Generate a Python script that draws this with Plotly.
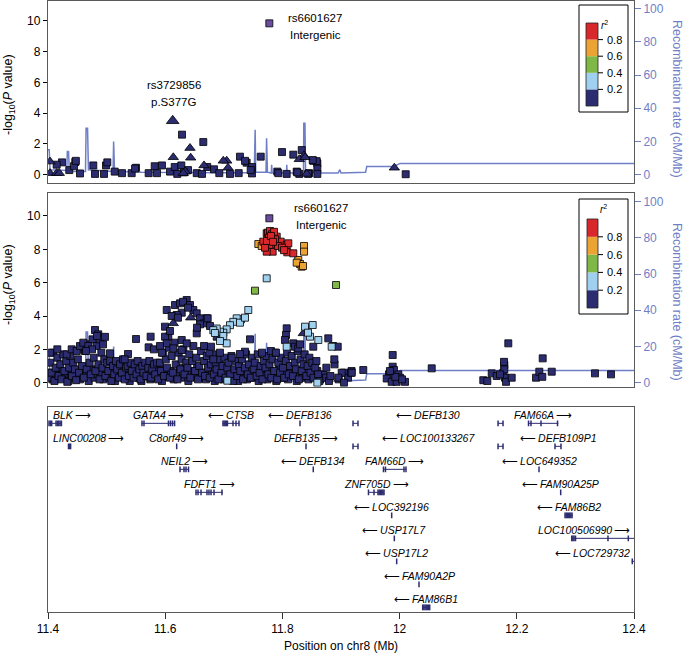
import plotly.graph_objects as go

W, H = 685, 654

# ---------------- data ----------------
# recombination rate (cM/Mb), shared by both association panels
recomb_pos = [11.400, 11.402, 11.4035, 11.420, 11.432, 11.433, 11.435, 11.4365, 11.464, 11.465,
              11.4675, 11.469, 11.511, 11.512, 11.5135, 11.560, 11.620, 11.700, 11.752, 11.7535,
              11.7545, 11.772, 11.773, 11.7745, 11.781, 11.7817, 11.7825, 11.807, 11.8075, 11.808,
              11.836, 11.8365, 11.8385, 11.8395, 11.860, 11.895, 11.898, 11.900, 11.942, 11.944,
              11.990, 12.001, 12.400]
recomb_rate = [15, 15, 3, 2.5, 2.5, 14, 14, 2, 2, 28,
               28, 3, 2, 20, 2, 1.5, 1.2, 1.2, 1.2, 27,
               1.5, 1.5, 22, 1.5, 1, 6, 1, 1, 6, 1,
               1, 31, 31, 1.5, 1, 1, 3, 1, 1.5, 5,
               5, 6.8, 6.8]

# top panel (conditioned)
top_sq_pos = [11.6287, 11.6650, 11.7276, 11.7630, 11.7993, 11.8186, 11.8330, 11.8527, 11.8596, 11.8596,
              11.8596, 11.7390, 11.7481, 11.7481, 11.4239, 11.4148, 11.4363, 11.4466, 11.4444, 11.4546,
              11.4773, 11.4802, 11.4990, 11.5012, 11.4956, 11.5138, 11.5263, 11.5428, 11.5502, 11.5718,
              11.5821, 11.5860, 11.5945, 11.6082, 11.6162, 11.6206, 11.6275, 11.6389, 11.6321, 11.6538,
              11.6628, 11.6718, 11.6833, 11.6923, 11.7106, 11.7254, 11.7459, 11.7913, 11.8073, 11.8244,
              11.8288, 11.8454, 12.0104, 11.4475, 11.5485, 11.7362, 11.8585, 11.8517, 11.7930, 11.8255,
              11.8439]
top_sq_p = [2.60, 2.12, 1.17, 1.17, 1.47, 1.30, 1.60, 0.90, 0.74, 0.40,
            0.05, 0.78, 0.50, 0.08, 0.80, 0.65, 0.30, 0.82, 0.55, 0.08,
            0.60, 0.05, 0.60, 0.80, 0.05, 0.20, 0.10, 0.10, 0.45, 0.10,
            0.55, 0.10, 0.60, 0.20, 0.50, 0.05, 0.60, 0.30, 0.15, 0.10,
            0.05, 0.50, 0.35, 0.10, 0.05, 0.10, 0.30, 0.20, 0.05, 0.20,
            0.05, 0.10, 0.03, 0.90, 0.40, 0.90, 0.88, 0.95, 0.10, 0.15,
            0.05]
top_tri_pos = [11.6423, 11.6138, 11.6435, 11.8369, 11.8288, 11.8386, 11.6662, 11.7050, 11.6991, 11.7072,
               11.4034, 11.4034, 11.4148, 11.4193, 11.6343, 11.6309, 11.8415, 11.9910]
top_tri_p = [1.73, 1.13, 1.10, 1.25, 1.00, 1.13, 0.60, 0.90, 0.90, 0.45,
             0.85, 0.10, 0.10, 0.10, 0.20, 0.10, 0.05, 0.45]

coding_snp = "rs3729856"
coding_note = "p.S377G"
coding_pos = 11.6128
coding_p = 3.5

lead_snp = "rs6601627"
lead_note = "Intergenic"
lead_pos = 11.7777
lead_p_top = 9.83
lead_p_mid = 9.86

# middle panel (unconditioned), split by r2 bin
mid_low_pos = [11.4025, 11.4075, 11.4145, 11.4195, 11.4245, 11.4295, 11.4345, 11.4395, 11.4445, 11.4495,
               11.4545, 11.4595, 11.4645, 11.4695, 11.4745, 11.4795, 11.4845, 11.4895, 11.4945, 11.4995,
               11.5045, 11.5095, 11.5145, 11.5195, 11.5245, 11.5295, 11.5345, 11.5395, 11.5445, 11.5495,
               11.5545, 11.5595, 11.5645, 11.5695, 11.5745, 11.5795, 11.5845, 11.5895, 11.5945, 11.5995,
               11.6045, 11.6095, 11.6145, 11.6195, 11.6245, 11.6295, 11.6345, 11.6395, 11.6445, 11.6495,
               11.6545, 11.6595, 11.6645, 11.6695, 11.6745, 11.6795, 11.6845, 11.6895, 11.6945, 11.6995,
               11.7045, 11.7095, 11.7145, 11.7195, 11.7245, 11.7295, 11.7345, 11.7395, 11.7445, 11.7495,
               11.7545, 11.7595, 11.7645, 11.7695, 11.7745, 11.7795, 11.7845, 11.7895, 11.7945, 11.7995,
               11.8045, 11.8095, 11.8145, 11.8195, 11.8245, 11.8295, 11.8345, 11.8395, 11.8445, 11.8495,
               11.8545, 11.8595, 11.8645, 11.8695, 11.8745, 11.8795]
mid_low_p = [0.6, 0.2, 0.5, 0.9, 0.3, 0.6, 0.1, 0.5, 0.3, 0.7,
             0.2, 0.5, 0.4, 0.1, 0.8, 0.3, 0.5, 0.6, 0.2, 0.7,
             0.3, 0.6, 0.1, 0.5, 0.7, 0.3, 0.5, 0.1, 0.6, 0.9,
             0.3, 0.1, 0.4, 0.7, 0.2, 0.5, 0.3, 0.8, 0.1, 0.6,
             0.4, 0.7, 0.2, 0.5, 0.9, 0.3, 0.6, 0.1, 0.7, 0.4,
             0.9, 0.3, 0.6, 0.2, 0.8, 0.5, 0.1, 0.7, 0.4, 0.2,
             0.6, 0.3, 0.7, 0.5, 0.1, 0.4, 0.6, 0.2, 0.8, 0.3,
             0.6, 0.1, 0.5, 0.4, 0.2, 0.7, 0.5, 0.1, 0.9, 0.3,
             0.6, 0.2, 0.7, 0.4, 0.1, 0.5, 0.3, 0.8, 0.2, 0.6,
             0.4, 0.7, 0.2, 0.5, 0.3, 0.1]
mid_base_pos = [11.401, 11.404, 11.406, 11.409, 11.411, 11.413, 11.416, 11.418, 11.421, 11.423,
                11.426, 11.428, 11.431, 11.433, 11.436, 11.438, 11.441, 11.443, 11.446, 11.448,
                11.451, 11.453, 11.456, 11.458, 11.461, 11.463, 11.466, 11.468, 11.471, 11.473,
                11.476, 11.478, 11.481, 11.483, 11.486, 11.488, 11.491, 11.493, 11.496, 11.498,
                11.501, 11.503, 11.506, 11.508, 11.511, 11.513, 11.516, 11.518, 11.521, 11.523,
                11.526, 11.528, 11.531, 11.533, 11.536, 11.538, 11.541, 11.543, 11.546, 11.548,
                11.551, 11.553, 11.556, 11.558, 11.561, 11.563, 11.566, 11.568, 11.571, 11.573,
                11.576, 11.578, 11.581, 11.583, 11.586, 11.588, 11.591, 11.593, 11.596, 11.598,
                11.601, 11.603, 11.606, 11.608, 11.611, 11.613, 11.616, 11.618, 11.621, 11.623,
                11.626, 11.628, 11.631, 11.633, 11.636, 11.638, 11.641, 11.643, 11.646, 11.648,
                11.651, 11.653, 11.656, 11.658, 11.661, 11.663, 11.666, 11.668, 11.671, 11.673,
                11.676, 11.678, 11.681, 11.683, 11.686, 11.688, 11.691, 11.693, 11.696, 11.698,
                11.701, 11.703, 11.706, 11.708, 11.711, 11.713, 11.716, 11.718, 11.721, 11.723,
                11.726, 11.728, 11.731, 11.733, 11.736, 11.738, 11.741, 11.743, 11.746, 11.748,
                11.751, 11.753, 11.756, 11.758, 11.761, 11.763, 11.766, 11.768, 11.771, 11.773,
                11.776, 11.778, 11.781, 11.783, 11.786, 11.788, 11.791, 11.793, 11.796, 11.798,
                11.801, 11.803, 11.806, 11.808, 11.811, 11.813, 11.816, 11.818, 11.821, 11.823,
                11.826, 11.828, 11.831, 11.833, 11.836, 11.838, 11.841, 11.843, 11.846, 11.848,
                11.851, 11.853, 11.856, 11.858, 11.861, 11.863, 11.875, 11.882, 11.889, 11.896,
                11.905, 11.912, 11.918]
mid_base_p = [0.3, 1.2, 0.6, 1.8, 0.1, 0.9, 1.5, 0.4, 1.1, 0.2,
              1.7, 0.7, 1.3, 0.05, 0.9, 1.6, 0.4, 1.2, 0.8, 0.15,
              1.4, 0.6, 2.0, 1.0, 0.3, 1.9, 0.8, 2.3, 1.2, 0.5,
              2.6, 1.5, 0.7, 2.2, 1.1, 0.2, 1.8, 0.9, 1.4, 0.4,
              1.2, 0.7, 1.3, 0.1, 1.0, 0.5, 1.3, 0.8, 0.3, 1.1,
              0.6, 1.4, 0.2, 0.9, 1.0, 0.4, 1.2, 0.7, 0.3, 1.1,
              0.5, 1.3, 0.8, 0.2, 1.0, 0.6, 1.2, 0.4, 0.9, 1.3,
              0.3, 0.8, 1.1, 0.5, 1.2, 0.2, 1.2, 0.7, 1.8, 0.4,
              1.4, 0.9, 2.1, 0.3, 1.6, 0.6, 2.4, 1.1, 0.2, 1.8,
              0.8, 1.4, 2.0, 0.5, 1.2, 0.9, 1.7, 0.3, 1.3, 2.2,
              0.7, 1.5, 0.2, 1.0, 1.9, 0.6, 1.3, 0.4, 1.6, 0.9,
              0.3, 1.1, 1.7, 0.5, 1.2, 0.8, 0.2, 1.4, 0.6, 1.0,
              1.5, 0.3, 0.9, 1.2, 0.5, 1.6, 0.1, 0.8, 1.3, 0.4,
              1.0, 0.7, 1.4, 0.2, 0.9, 1.7, 0.5, 1.1, 0.3, 1.5,
              0.8, 1.2, 0.4, 1.7, 0.6, 1.0, 0.2, 1.3, 0.9, 1.6,
              0.5, 1.1, 0.3, 1.4, 0.7, 1.8, 0.2, 1.2, 0.6, 1.5,
              0.9, 0.3, 1.3, 1.8, 0.5, 1.0, 1.6, 0.4, 1.2, 0.8,
              1.9, 0.2, 1.4, 0.7, 1.1, 1.7, 0.4, 1.0, 1.5, 0.6,
              1.2, 0.3, 0.9, 1.3, 0.5, 0.1, 0.9, 0.4, 1.1, 0.2,
              0.6, 0.3, 0.7]
mid_navy_pos = [11.4034, 11.4159, 11.4319, 11.4404, 11.4490, 11.4546, 11.4602, 11.4688, 11.4802, 11.4858,
                11.4887, 11.4973, 11.4939, 11.5058, 11.4751, 11.4648, 11.4836, 11.5502, 11.5751, 11.5717,
                11.5808, 11.5365, 11.5309, 11.6026, 11.6167, 11.6253, 11.6367, 11.6304, 11.6423, 11.6480,
                11.6282, 11.6196, 11.6111, 11.6538, 11.6594, 11.6708, 11.6662, 11.6594, 11.5997, 11.6053,
                11.5997, 11.6026, 11.6138, 11.6282, 11.6282, 11.6367, 11.6538, 11.6765, 11.6879, 11.6662,
                11.6753, 11.6935, 11.6821, 11.6082, 11.6218, 11.6389, 11.6543, 11.5911, 11.5945, 11.6725,
                11.6782, 11.7362, 11.7447, 11.7276, 11.7135, 11.8073, 11.8061, 11.8044, 11.8186, 11.8215,
                11.8271, 11.8300, 11.8527, 11.8783, 11.8863, 11.8944, 11.8886, 11.7652, 11.7805, 11.7890,
                11.9012, 11.9170, 11.8954, 11.9183, 11.9380, 11.9051, 11.9882, 11.9882, 11.9904, 11.9819,
                11.9780, 11.9865, 11.9978, 12.0007, 11.9950, 12.0092, 12.0041, 11.9927, 11.9836, 12.0548,
                12.1428, 12.1497, 12.1572, 12.1657, 12.1770, 12.1787, 12.1787, 12.1799, 12.1816, 12.1855,
                12.1913, 12.1713, 12.1782, 12.2328, 12.2384, 12.2435, 12.2442, 12.2596, 12.3334, 12.3608]
mid_navy_p = [1.80, 2.00, 1.70, 2.00, 1.90, 2.20, 2.40, 2.20, 3.16, 2.90,
              2.60, 2.75, 2.30, 1.76, 2.00, 1.90, 2.80, 2.62, 2.76, 2.12,
              2.00, 1.72, 1.40, 4.36, 4.66, 4.76, 4.96, 4.85, 4.66, 4.36,
              4.20, 4.06, 4.00, 4.16, 3.86, 3.86, 3.56, 3.50, 3.36, 2.76,
              2.76, 2.36, 2.06, 2.56, 1.96, 2.36, 2.96, 3.40, 2.76, 2.20,
              1.80, 1.80, 1.40, 3.10, 3.90, 4.50, 3.30, 2.20, 1.80, 3.86,
              2.16, 1.86, 2.60, 1.72, 1.50, 3.26, 2.86, 2.56, 2.36, 2.16,
              2.06, 2.30, 2.16, 2.66, 2.20, 2.16, 1.40, 1.80, 1.90, 1.80,
              0.60, 0.60, 0.30, 0.60, 0.76, 0.00, 1.66, 0.96, 0.76, 0.50,
              0.25, 0.05, 0.50, 0.30, 0.05, 0.05, 0.20, 0.35, 0.70, 0.86,
              0.15, 0.10, 0.56, 0.40, 0.60, 1.06, 0.80, 0.30, 0.05, 2.36,
              0.30, 0.50, 1.25, 0.30, 0.66, 0.35, 1.46, 0.66, 0.56, 0.50]
mid_tri_pos = [11.6138, 11.6435, 11.8357]
mid_tri_p = [3.56, 3.90, 2.96]
mid_lb_pos = [11.7732, 11.7418, 11.7294, 11.7220, 11.7162, 11.7106, 11.7049, 11.6991, 11.6935, 11.6879,
              11.6821, 11.6991, 11.7049, 11.6935, 11.7060, 11.8073, 11.8386, 11.8517, 11.8471, 11.8613,
              11.8437, 11.8841, 11.8596, 11.7276, 11.7362, 11.6849]
mid_lb_p = [6.26, 4.36, 3.80, 3.86, 3.65, 3.45, 3.20, 3.00, 3.06, 3.25,
            3.15, 2.80, 2.36, 2.50, 0.12, 2.16, 3.36, 3.46, 2.76, 2.56,
            3.00, 2.16, 0.00, 3.60, 3.90, 2.98]
mid_green_pos = [11.7532, 11.8915]
mid_green_p = [5.52, 5.86]
mid_orange_pos = [11.7589, 11.7647, 11.8369, 11.8369, 11.8271, 11.8300, 11.8329, 11.8244, 11.8352]
mid_orange_p = [8.32, 8.20, 8.20, 7.86, 7.36, 7.12, 6.96, 7.20, 7.00]
mid_red_pos = [11.7674, 11.7732, 11.7817, 11.7903, 11.7834, 11.7971, 11.8073, 11.8084, 11.8186, 11.8101,
               11.7777, 11.7732, 11.7754, 11.7788, 11.7823, 11.7857, 11.7771, 11.7874, 11.7925, 11.7993,
               11.8027, 11.7703, 11.7737, 11.7805, 11.7840]
mid_red_p = [8.46, 8.96, 8.26, 8.76, 7.86, 8.46, 8.26, 7.82, 7.76, 8.36,
             8.26, 7.86, 9.00, 9.10, 8.90, 9.05, 8.70, 8.60, 8.20, 8.10,
             7.95, 8.10, 8.50, 8.80, 8.45]

# LD key
r2_ticks = [0.2, 0.4, 0.6, 0.8]
r2_colors = ["#2c2c70", "#9fd0ef", "#80b847", "#eba433", "#d8282c"]
lead_color = "#6b4d9e"

# genes
gene_names = ["BLK", "GATA4", "CTSB", "DEFB136", "DEFB130", "FAM66A",
              "LINC00208", "C8orf49", "DEFB135", "LOC100133267", "DEFB109P1",
              "NEIL2", "DEFB134", "FAM66D", "LOC649352",
              "FDFT1", "ZNF705D", "FAM90A25P",
              "LOC392196", "FAM86B2",
              "USP17L7", "LOC100506990",
              "USP17L2", "LOC729732",
              "FAM90A2P", "FAM86B1"]
gene_rows = [0, 0, 0, 0, 0, 0,
             1, 1, 1, 1, 1,
             2, 2, 2, 2,
             3, 3, 3,
             4, 4,
             5, 5,
             6, 6,
             7, 8]
gene_strand = ["+", "+", "-", "-", "-", "+",
               "+", "+", "+", "-", "-",
               "+", "-", "+", "-",
               "+", "+", "-",
               "-", "-",
               "-", "+",
               "-", "-",
               "-", "-"]
gene_pieces = [[(11.4017, 11.4234)], [(11.5599, 11.6167)], [(11.6981, 11.7265)], [(11.8300, 11.8300)],
               [(11.9205, 11.9290), (12.1680, 12.1765)], [(12.2196, 12.2708)],
               [(11.4341, 11.4392)], [(11.6196, 11.6196)], [(11.8403, 11.8403)],
               [(11.9205, 11.9290), (12.1680, 12.1765)], [(12.2652, 12.2754)],
               [(11.6253, 11.6406)], [(11.8527, 11.8527)], [(11.9722, 12.0109)], [(12.2379, 12.2379)],
               [(11.6520, 11.6981)], [(11.9466, 11.9734)], [(12.2749, 12.2749)],
               [(11.9865, 11.9865)], [(12.2823, 12.2954)],
               [(11.9910, 11.9910)], [(12.2937, 12.4600)],
               [(11.9950, 11.9950)], [(12.3960, 12.4000)],
               [(12.0331, 12.0331)], [(12.0394, 12.0519)]]
gene_exons = [[11.4017, 11.4040, 11.4063, 11.4137, 11.4160, 11.4183, 11.4206, 11.4229],
              [11.5604, 11.5638, 11.6056, 11.6090, 11.6125, 11.6160],
              [11.6986, 11.7005, 11.7024, 11.7043, 11.7062, 11.7157, 11.7208, 11.7259],
              [11.8300],
              [11.9205, 11.9290, 12.1680, 12.1765],
              [12.2200, 12.2242, 12.2413, 12.2695],
              [11.4350, 11.4368, 11.4386],
              [11.6196],
              [11.8403],
              [11.9205, 11.9290, 12.1680, 12.1765],
              [12.2652, 12.2754],
              [11.6253, 11.6321, 11.6355, 11.6398],
              [11.8527],
              [11.9725, 11.9759, 12.0075, 12.0109],
              [12.2379],
              [11.6526, 11.6560, 11.6611, 11.6713, 11.6747, 11.6782, 11.6833, 11.6969],
              [11.9469, 11.9563, 11.9631, 11.9652, 11.9673, 11.9694, 11.9715, 11.9734],
              [12.2749],
              [11.9865],
              [12.2823, 12.2843, 12.2863, 12.2883, 12.2903, 12.2923, 12.2943],
              [11.9910],
              [12.2937, 12.2957, 12.2977, 12.3002, 12.3556, 12.3903],
              [11.9950],
              [12.3971],
              [12.0331],
              [12.0394, 12.0414, 12.0434, 12.0454, 12.0474, 12.0494, 12.0514]]

x_ticks = [11.4, 11.6, 11.8, 12.0, 12.2, 12.4]
x_ticktext = ["11.4", "11.6", "11.8", "12", "12.2", "12.4"]

# ---------------- layout helpers ----------------
FONT = "Liberation Sans, Arial, sans-serif"
RC = "#6f7fc6"       # recombination colour
NAVY = r2_colors[0]
FRAME = "#5a5a5a"


def fx(px):
    return px / W


def fy(py):
    return 1 - py / H


x_dom = [fx(48), fx(634)]
top_dom = [fy(183), fy(1)]
mid_dom = [fy(386.7), fy(193.3)]
gene_dom = [fy(611.7), fy(407)]

fig = go.Figure()


def pts(x, y, xa, ya, color, symbol="square", size=7):
    return go.Scatter(x=x, y=y, xaxis=xa, yaxis=ya, mode="markers", hoverinfo="skip",
                      marker=dict(symbol=symbol, size=size, color=color,
                                  line=dict(color="black", width=0.8)))


# top panel
fig.add_trace(go.Scatter(x=recomb_pos, y=recomb_rate, xaxis="x", yaxis="y", mode="lines",
                         line=dict(color=RC, width=1.5), hoverinfo="skip"))
fig.add_trace(pts(top_sq_pos, top_sq_p, "x", "y2", NAVY))
fig.add_trace(pts(top_tri_pos, top_tri_p, "x", "y2", NAVY, "triangle-up", 9))
fig.add_trace(pts([coding_pos], [coding_p], "x", "y2", NAVY, "triangle-up", 11))
fig.add_trace(pts([lead_pos], [lead_p_top], "x", "y2", lead_color))

# middle panel
fig.add_trace(go.Scatter(x=recomb_pos, y=recomb_rate, xaxis="x2", yaxis="y3", mode="lines",
                         line=dict(color=RC, width=1.5), hoverinfo="skip"))
fig.add_trace(pts(mid_low_pos, mid_low_p, "x2", "y4", NAVY))
fig.add_trace(pts(mid_base_pos, mid_base_p, "x2", "y4", NAVY))
fig.add_trace(pts(mid_navy_pos, mid_navy_p, "x2", "y4", NAVY))
fig.add_trace(pts(mid_tri_pos, mid_tri_p, "x2", "y4", NAVY, "triangle-up", 9))
fig.add_trace(pts(mid_lb_pos, mid_lb_p, "x2", "y4", r2_colors[1]))
fig.add_trace(pts(mid_green_pos, mid_green_p, "x2", "y4", r2_colors[2]))
fig.add_trace(pts(mid_orange_pos, mid_orange_p, "x2", "y4", r2_colors[3]))
fig.add_trace(pts(mid_red_pos, mid_red_p, "x2", "y4", r2_colors[4]))
fig.add_trace(pts([lead_pos], [lead_p_mid], "x2", "y4", lead_color))

# gene panel: introns as lines, exons as ticks
lx, ly, ex, ey = [], [], [], []
for row, pieces, exons in zip(gene_rows, gene_pieces, gene_exons):
    for s, e in pieces:
        lx += [s, e, None]
        ly += [-row, -row, None]
    ex += exons
    ey += [-row] * len(exons)
fig.add_trace(go.Scatter(x=lx, y=ly, xaxis="x3", yaxis="y5", mode="lines",
                         line=dict(color=NAVY, width=1), hoverinfo="skip"))
fig.add_trace(go.Scatter(x=ex, y=ey, xaxis="x3", yaxis="y5", mode="markers", hoverinfo="skip",
                         marker=dict(symbol="line-ns", size=4,
                                     line=dict(color=NAVY, width=1.5))))

ann = []
px_per_mb = (634 - 48) / 1.0
for name, row, strand, pieces in zip(gene_names, gene_rows, gene_strand, gene_pieces):
    lo = min(p[0] for p in pieces)
    hi = max(p[1] for p in pieces)
    mid = (lo + hi) / 2
    cpx = 48 + (mid - 11.4) * px_per_mb
    w = (len(name) + 2) * 6.2
    xanchor, xx = "center", mid
    if cpx - w / 2 < 51:
        xanchor, xx = "left", 11.4 + 3 / px_per_mb
    elif cpx + w / 2 > 632:
        xanchor, xx = "right", 11.4 + 584 / px_per_mb
    label = f"<i>{name}</i>\u2009\u27f6" if strand == "+" else f"\u27f5\u2009<i>{name}</i>"
    ann.append(dict(x=xx, y=-row, xref="x3", yref="y5", text=label, showarrow=False,
                    xanchor=xanchor, yanchor="middle", yshift=8,
                    font=dict(size=10.5, color="black")))

# SNP labels
lab_font = dict(size=11.5, color="black")
ann += [
    dict(x=lead_pos, y=lead_p_top, xref="x", yref="y2", text=lead_snp, showarrow=False,
         xshift=46, yshift=5, font=lab_font),
    dict(x=lead_pos, y=lead_p_top, xref="x", yref="y2", text=lead_note, showarrow=False,
         xshift=46, yshift=-12, font=lab_font),
    dict(x=coding_pos, y=coding_p, xref="x", yref="y2", text=coding_snp, showarrow=False,
         xshift=1, yshift=36, font=lab_font),
    dict(x=coding_pos, y=coding_p, xref="x", yref="y2", text=coding_note, showarrow=False,
         xshift=1, yshift=19, font=lab_font),
    dict(x=lead_pos, y=lead_p_mid, xref="x2", yref="y4", text=lead_snp, showarrow=False,
         xshift=52, yshift=10, font=lab_font),
    dict(x=lead_pos, y=lead_p_mid, xref="x2", yref="y4", text=lead_note, showarrow=False,
         xshift=52, yshift=-7, font=lab_font),
]

# axis titles
ytitle = "-log<sub>10</sub>(<i>P</i> value)"
rtitle = "Recombination rate (cM/Mb)"
for cy_left, cy_right in [(95, 99), (285, 302)]:
    ann.append(dict(x=fx(9), y=fy(cy_left), xref="paper", yref="paper", text=ytitle,
                    xanchor="center", yanchor="middle",
                    showarrow=False, textangle=-90, font=dict(size=12.5, color="black")))
    ann.append(dict(x=fx(677), y=fy(cy_right), xref="paper", yref="paper", text=rtitle,
                    xanchor="center", yanchor="middle",
                    showarrow=False, textangle=90, font=dict(size=12.5, color=RC)))
ann.append(dict(x=fx(341), y=fy(646), xref="paper", yref="paper", text="Position on chr8 (Mb)",
                xanchor="center", yanchor="middle",
                showarrow=False, font=dict(size=12, color="black")))

# r2 keys
shapes = []


def r2_key(box, bar, r2pos, r2anchor):
    bx0, by0, bx1, by1 = box
    shapes.append(dict(type="rect", xref="paper", yref="paper", x0=fx(bx0), x1=fx(bx1),
                       y0=fy(by1), y1=fy(by0), line=dict(color="black", width=1),
                       fillcolor="white", layer="above"))
    x0, top, x1, bot = bar
    edges = [0.0] + r2_ticks + [1.0]
    for i, col in enumerate(r2_colors):
        ya = bot - edges[i] * (bot - top)
        yb = bot - edges[i + 1] * (bot - top)
        shapes.append(dict(type="rect", xref="paper", yref="paper", x0=fx(x0), x1=fx(x1),
                           y0=fy(ya), y1=fy(yb), line=dict(width=0), fillcolor=col,
                           layer="above"))
    shapes.append(dict(type="rect", xref="paper", yref="paper", x0=fx(x0), x1=fx(x1),
                       y0=fy(bot), y1=fy(top), line=dict(color="#222", width=0.8),
                       layer="above"))
    for t in r2_ticks:
        yy = bot - t * (bot - top)
        shapes.append(dict(type="line", xref="paper", yref="paper", x0=fx(x1), x1=fx(x1 + 5),
                           y0=fy(yy), y1=fy(yy), line=dict(color="black", width=1),
                           layer="above"))
        ann.append(dict(x=fx(x1 + 7), y=fy(yy), xref="paper", yref="paper", text=f"{t:.1f}",
                        showarrow=False, xanchor="left", yanchor="middle",
                        font=dict(size=11, color="black")))
    ann.append(dict(x=fx(r2pos[0]), y=fy(r2pos[1]), xref="paper", yref="paper",
                    text="<i>r</i><sup>2</sup>", showarrow=False, xanchor=r2anchor,
                    yanchor="middle", font=dict(size=10, color="black")))


r2_key((579, 5, 628, 112), (586, 23, 598, 106), (599, 25), "left")
r2_key((579, 199, 628, 314), (587, 219, 598, 308), (603, 209), "center")

# axes
xbase = dict(domain=x_dom, range=[11.4, 12.4], showgrid=False, zeroline=False,
             showline=True, mirror=True, linecolor=FRAME, linewidth=1.3)
left_base = dict(side="left", showgrid=False, zeroline=False, showline=True, mirror=True,
                 linecolor=FRAME, linewidth=1.3, tickvals=[0, 2, 4, 6, 8, 10], ticks="outside",
                 ticklen=4, tickcolor="black", tickfont=dict(size=12, color="black"))
right_base = dict(side="right", showgrid=False, zeroline=False, showline=False,
                  tickvals=[0, 20, 40, 60, 80, 100], ticks="outside", ticklen=6, tickcolor=RC,
                  tickfont=dict(size=12, color=RC))

fig.update_layout(
    width=W, height=H, margin=dict(l=0, r=0, t=0, b=0, autoexpand=False),
    paper_bgcolor="white", plot_bgcolor="white", showlegend=False,
    font=dict(family=FONT, color="black"),
    xaxis=dict(xbase, anchor="y", showticklabels=False, ticks=""),
    yaxis=dict(right_base, domain=top_dom, anchor="x", range=[-5, 104.6]),
    yaxis2=dict(left_base, overlaying="y", anchor="x", range=[-0.54, 11.28]),
    xaxis2=dict(xbase, anchor="y3", showticklabels=False, ticks=""),
    yaxis3=dict(right_base, domain=mid_dom, anchor="x2", range=[-2.2, 104.6]),
    yaxis4=dict(left_base, overlaying="y3", anchor="x2", range=[-0.24, 11.36]),
    xaxis3=dict(xbase, anchor="y5", tickvals=x_ticks, ticktext=x_ticktext, ticks="outside",
                ticklen=6, tickcolor="#333", tickfont=dict(size=12, color="black")),
    yaxis5=dict(domain=gene_dom, anchor="x3", range=[-8.19, 0.71], showgrid=False,
                zeroline=False, showline=True, mirror=True, linecolor=FRAME, linewidth=1.3,
                showticklabels=False, ticks=""),
    annotations=ann, shapes=shapes,
)

fig.write_html("out.html", config={"displayModeBar": False},
               post_script="document.body.style.margin = '0px';")
